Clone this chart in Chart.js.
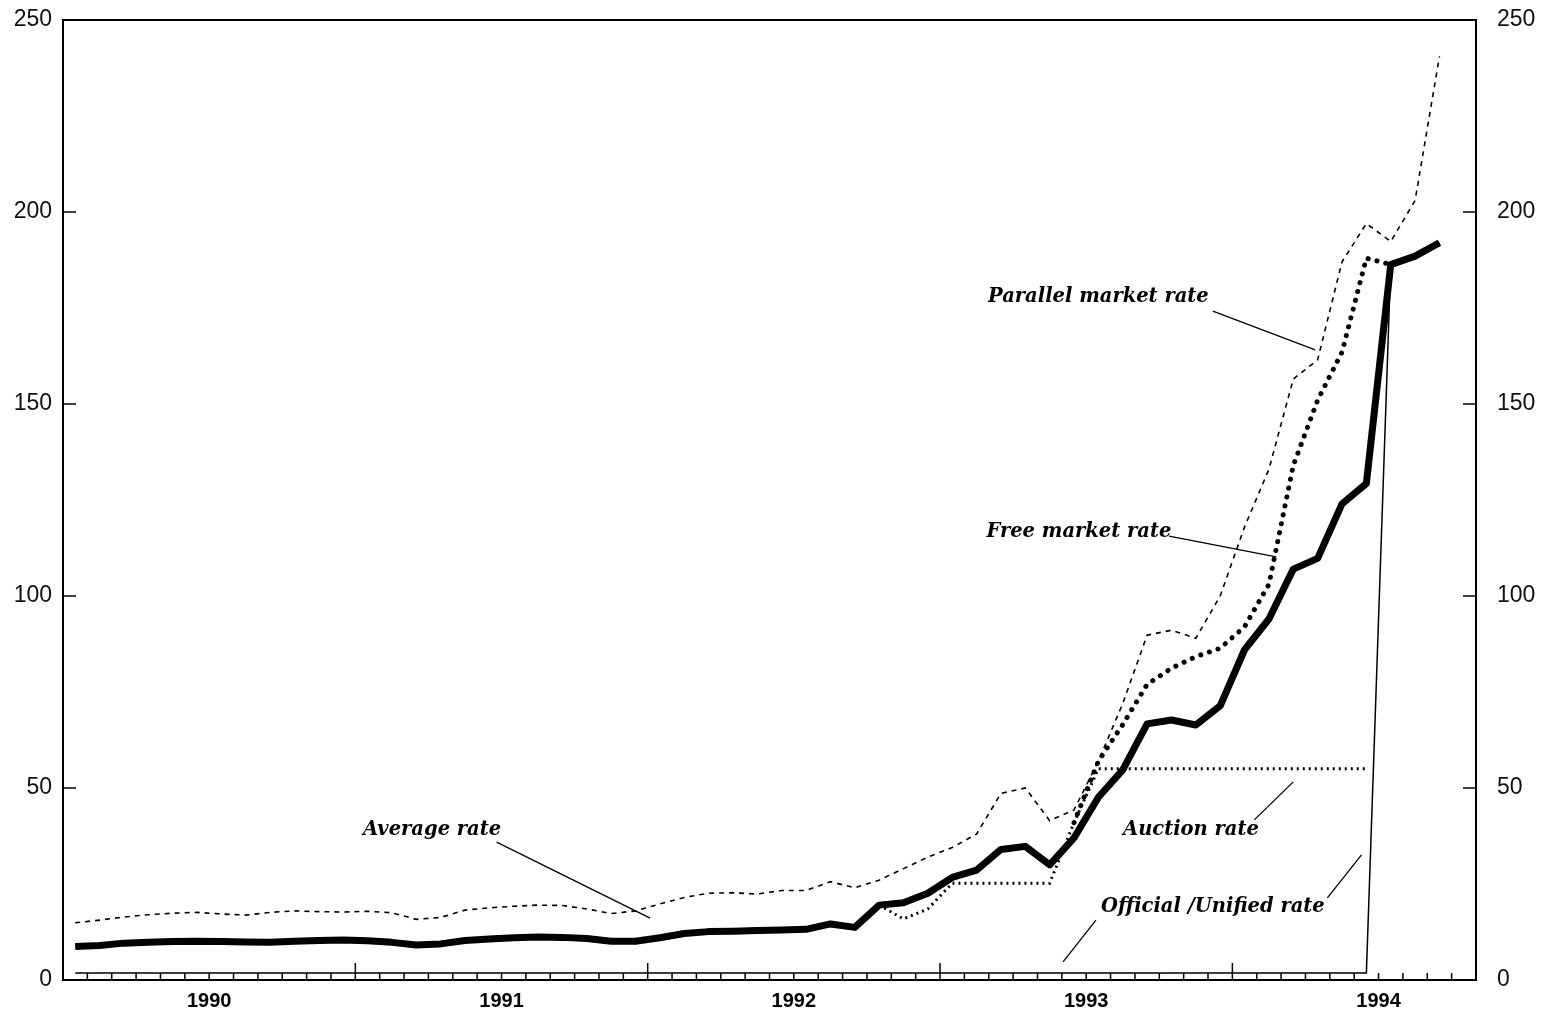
<!DOCTYPE html>
<html>
<head>
<meta charset="utf-8">
<title>Exchange rates</title>
<script src="https://cdn.jsdelivr.net/npm/chart.js@4.4.0/dist/chart.umd.min.js"></script>
<style>
  html, body { margin: 0; padding: 0; background: #fff; }
  #wrap { width: 1547px; height: 1018px; }
</style>
</head>
<body>
<div id="wrap"><canvas id="myChart"></canvas></div>
<script>
// monthly data, Jan 1990 .. Sep 1994
var years = ['1990', '1991', '1992', '1993', '1994'];
var yTicks = [0, 50, 100, 150, 200, 250];

var averageRate = [8.7, 9.0, 9.6, 9.8, 10.0, 10.1, 10.0, 9.9, 9.8, 10.1, 10.3, 10.4,
    10.2, 9.8, 9.1, 9.4, 10.3, 10.7, 11.0, 11.2, 11.1, 10.8, 10.1, 10.1,
    11.0, 12.1, 12.6, 12.7, 12.9, 13.0, 13.2, 14.6, 13.7, 19.5, 20.1, 22.6,
    26.7, 28.6, 34.0, 34.8, 30.0, 37.0, 47.6, 54.7, 66.7, 67.7, 66.4, 71.4,
    86.0, 94.0, 107.0, 109.8, 124.0, 129.3, 186.3, 188.5, 192.0];

var parallelRate = [14.9, 15.6, 16.4, 17.0, 17.4, 17.6, 17.2, 16.9, 17.6, 18.0, 17.8, 17.7,
    17.9, 17.5, 15.8, 16.3, 18.2, 18.8, 19.2, 19.5, 19.4, 18.5, 17.3, 18.0,
    19.8, 21.5, 22.6, 22.7, 22.4, 23.3, 23.3, 25.6, 24.0, 26.0, 29.0, 32.0,
    34.5, 38.0, 48.6, 50.0, 41.5, 44.3, 57.0, 72.0, 89.8, 91.1, 89.0, 100.0,
    118.0, 133.0, 156.5, 161.5, 187.0, 197.0, 192.3, 203.0, 240.5];

var freeRate = [null, null, null, null, null, null, null, null, null, null, null, null,
    null, null, null, null, null, null, null, null, null, null, null, null,
    null, null, null, null, null, null, null, null, null, null, null, null,
    null, null, null, null, null, 41.0, 57.0, 66.5, 77.0, 81.2, 84.2, 86.4,
    92.0, 103.0, 134.0, 151.0, 163.5, 188.0, 186.3, null, null];

var auctionRate = [null, null, null, null, null, null, null, null, null, null, null, null,
    null, null, null, null, null, null, null, null, null, null, null, null,
    null, null, null, null, null, null, null, null, null, 19.5, 15.9, 18.5,
    25.2, 25.2, 25.2, 25.2, 25.2, 41.0, 55.0, 55.0, 55.0, 55.0, 55.0, 55.0,
    55.0, 55.0, 55.0, 55.0, 55.0, 55.0, null, null, null];

var officialRate = [1.8, 1.8, 1.8, 1.8, 1.8, 1.8, 1.8, 1.8, 1.8, 1.8, 1.8, 1.8,
    1.8, 1.8, 1.8, 1.8, 1.8, 1.8, 1.8, 1.8, 1.8, 1.8, 1.8, 1.8,
    1.8, 1.8, 1.8, 1.8, 1.8, 1.8, 1.8, 1.8, 1.8, 1.8, 1.8, 1.8,
    1.8, 1.8, 1.8, 1.8, 1.8, 1.8, 1.8, 1.8, 1.8, 1.8, 1.8, 1.8,
    1.8, 1.8, 1.8, 1.8, 1.8, 1.8, 186.3, 188.5, 192.0];

// text labels with pointer lines (data units: month, rate)
var notes = [
    { text: 'Parallel market rate', x: 42.5, y: 177.9, line: [47.2, 174.2, 51.4, 164.1] },
    { text: 'Free market rate', x: 41.7, y: 116.7, line: [45.4, 115.6, 49.8, 110.2] },
    { text: 'Average rate', x: 15.15, y: 39.1, line: [17.8, 35.9, 24.1, 16.1] },
    { text: 'Auction rate', x: 46.3, y: 39.1, line: [48.9, 41.7, 50.5, 51.6] },
    { text: 'Official /Unified rate', x: 47.2, y: 19.0, line: [42.4, 15.6, 41.05, 4.7] },
    { text: '', x: 0, y: 0, line: [51.9, 21.4, 53.3, 32.6] }
];

function toPoints(arr) {
    var pts = [];
    for (var i = 0; i < arr.length; i++) {
        pts.push({ x: i + 0.5, y: arr[i] });
    }
    return pts;
}

// keep the plot box fixed: no extra room for half label heights
function fixY(width) {
    return function (s) {
        s.width = width;
        s.paddingTop = 0;
        s.paddingBottom = 0;
    };
}

// frame, inward ticks, notes
var framePlugin = {
    id: 'frame',
    afterDatasetsDraw: function (chart) {
        var c = chart.ctx;
        var a = chart.chartArea;
        var xs = chart.scales.x;
        var ys = chart.scales.y;
        c.save();
        c.strokeStyle = '#000';
        c.lineWidth = 2;
        c.strokeRect(a.left, a.top, a.right - a.left, a.bottom - a.top);

        c.lineWidth = 1.5;
        c.beginPath();
        xs.ticks.forEach(function (t) {
            var px = xs.getPixelForValue(t.value);
            var len = (t.value % 12 === 0) ? 17 : 7;
            c.moveTo(px, a.bottom);
            c.lineTo(px, a.bottom - len);
        });
        ys.ticks.forEach(function (t) {
            if (t.value === 0 || t.value === 250) return;
            var py = ys.getPixelForValue(t.value);
            c.moveTo(a.left, py);
            c.lineTo(a.left + 13, py);
            c.moveTo(a.right, py);
            c.lineTo(a.right - 13, py);
        });
        c.stroke();

        c.font = 'italic bold 19.5px "DejaVu Serif"';
        c.fillStyle = '#000';
        c.textAlign = 'center';
        c.textBaseline = 'middle';
        c.lineWidth = 1.3;
        notes.forEach(function (n) {
            if (n.text) {
                c.fillText(n.text, xs.getPixelForValue(n.x), ys.getPixelForValue(n.y));
            }
            c.beginPath();
            c.moveTo(xs.getPixelForValue(n.line[0]), ys.getPixelForValue(n.line[1]));
            c.lineTo(xs.getPixelForValue(n.line[2]), ys.getPixelForValue(n.line[3]));
            c.stroke();
        });
        c.restore();
    }
};

var ctx = document.getElementById('myChart').getContext('2d');
var myChart = new Chart(ctx, {
    type: 'line',
    data: {
        datasets: [{
            label: 'Official /Unified rate',
            data: toPoints(officialRate),
            borderColor: '#000',
            borderWidth: 1.5
        }, {
            label: 'Auction rate',
            data: toPoints(auctionRate),
            borderColor: '#000',
            borderWidth: 3,
            borderDash: [2, 4]
        }, {
            label: 'Free market rate',
            data: toPoints(freeRate),
            borderColor: '#000',
            borderWidth: 5,
            borderCapStyle: 'round',
            borderDash: [0.1, 9]
        }, {
            label: 'Parallel market rate',
            data: toPoints(parallelRate),
            borderColor: '#000',
            borderWidth: 1.6,
            borderDash: [5, 5]
        }, {
            label: 'Average rate',
            data: toPoints(averageRate),
            borderColor: '#000',
            borderWidth: 7,
            borderJoinStyle: 'round'
        }]
    },
    options: {
        responsive: true,
        maintainAspectRatio: false,
        animation: false,
        spanGaps: false,
        layout: { padding: { top: 20 } },
        elements: { point: { radius: 0 }, line: { tension: 0 } },
        plugins: { legend: { display: false }, tooltip: { enabled: false } },
        scales: {
            x: {
                type: 'linear',
                min: 0,
                max: 58,
                grid: { display: false, drawTicks: false },
                border: { display: false },
                afterFit: function (s) { s.height = 38; },
                ticks: {
                    stepSize: 1,
                    maxTicksLimit: 100,
                    autoSkip: false,
                    maxRotation: 0,
                    padding: 9,
                    color: '#000',
                    font: { family: '"Liberation Sans"', size: 20, weight: 'bold' },
                    callback: function (v) {
                        return (v % 12 === 6) ? years[(v - 6) / 12] : '';
                    }
                }
            },
            y: {
                position: 'left',
                min: yTicks[0],
                max: yTicks[yTicks.length - 1],
                grid: { display: false, drawTicks: false },
                border: { display: false },
                afterFit: fixY(63),
                ticks: {
                    stepSize: 50,
                    padding: 11,
                    color: '#111',
                    font: { family: '"Liberation Sans"', size: 23 }
                }
            },
            y2: {
                position: 'right',
                min: yTicks[0],
                max: yTicks[yTicks.length - 1],
                grid: { display: false, drawTicks: false },
                border: { display: false },
                afterFit: fixY(71),
                ticks: {
                    stepSize: 50,
                    padding: 21,
                    color: '#111',
                    font: { family: '"Liberation Sans"', size: 23 }
                }
            }
        }
    },
    plugins: [framePlugin]
});
</script>
</body>
</html>
